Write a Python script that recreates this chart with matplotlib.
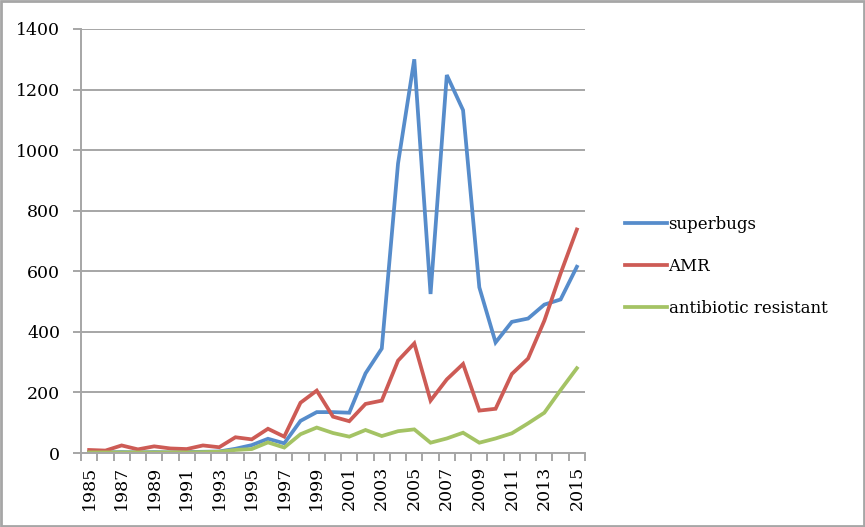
import matplotlib
matplotlib.use("Agg")
import matplotlib.pyplot as plt
from matplotlib.ticker import FixedLocator, NullFormatter

years = list(range(1985, 2016))
superbugs = [3, 2, 3, 2, 3, 2, 3, 4, 5, 14, 26, 47, 32, 106, 135, 135,
             133, 263, 345, 956, 1300, 525, 1248, 1132, 547, 365,
             433, 444, 490, 507, 615]
amr = [10, 8, 25, 12, 22, 15, 13, 25, 19, 52, 45, 80, 54, 166, 206, 120,
       105, 162, 173, 305, 362, 173, 243, 294, 140, 146,
       261, 312, 437, 593, 738]
antibiotic_resistant = [2, 2, 2, 2, 2, 2, 2, 3, 4, 10, 13, 35, 18, 62, 84, 66,
                        54, 76, 56, 72, 78, 34, 48, 67, 34, 48,
                        65, 98, 133, 208, 280]
series_names = ["superbugs", "AMR", "antibiotic resistant"]
colors = ["#568CCB", "#CD5B55", "#A4C364"]
y_ticks = [0, 200, 400, 600, 800, 1000, 1200, 1400]

plt.rcParams['font.family'] = ['DejaVu Serif']

fig = plt.figure(figsize=(8.65, 5.27), dpi=100)
ax = fig.add_axes([81 / 865, 1 - 453 / 527, (585 - 81) / 865, (453 - 29) / 527])

x = list(range(len(years)))
for vals, name, c in zip([superbugs, amr, antibiotic_resistant], series_names, colors):
    ax.plot(x, vals, color=c, linewidth=2.7, label=name, solid_joinstyle='miter')

grid_c = '#A6A6A6'
ax.set_xlim(-0.5, len(years) - 0.5)
ax.set_ylim(0, 1400)
ax.set_yticks(y_ticks)
ax.set_yticklabels([str(v) for v in y_ticks], fontsize=12.5)
ax.yaxis.grid(True, color=grid_c, linewidth=1.4)
ax.set_axisbelow(True)

ax.set_xticks(x[::2])
ax.set_xticklabels([str(y) for y in years[::2]], rotation=90, fontsize=12.5)
ax.tick_params(axis='x', which='major', length=0, pad=9)
ax.xaxis.set_minor_locator(FixedLocator([i - 0.5 for i in range(len(years) + 1)]))
ax.xaxis.set_minor_formatter(NullFormatter())
ax.tick_params(axis='x', which='minor', length=6, width=1.4, color=grid_c)
ax.tick_params(axis='y', length=6, width=1.4, color=grid_c, pad=9)

for side in ['top', 'right']:
    ax.spines[side].set_visible(False)
for side in ['left', 'bottom']:
    ax.spines[side].set_color(grid_c)
    ax.spines[side].set_linewidth(1.4)

ax.legend(loc='center left', bbox_to_anchor=(1.05, 0.44), frameon=False,
          fontsize=12, handlelength=2.5, handletextpad=0.1, labelspacing=1.5)

# gray frame around the whole chart
fig.patches.append(plt.Rectangle((0.001, 0.002), 0.998, 0.996, transform=fig.transFigure,
                                 fill=False, edgecolor='#A6A6A6', linewidth=2))

fig.savefig('out.png', dpi=100)
